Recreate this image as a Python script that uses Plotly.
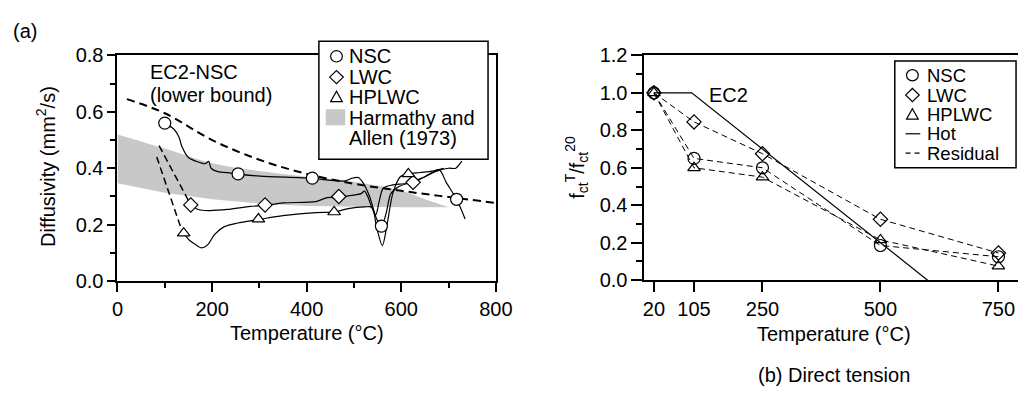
import plotly.graph_objects as go

W, H = 1035, 396
FONT = "Liberation Sans, Arial, Helvetica, sans-serif"

# ---------------- (a) Diffusivity data ----------------
# EC2-NSC lower bound (dashed)
ec2_T = [20, 100, 200, 300, 400, 500, 600, 700, 800]
ec2_D = [0.645, 0.595, 0.50, 0.43, 0.38, 0.345, 0.32, 0.298, 0.277]

# Harmathy and Allen (1973) band
band_T = [0, 100, 200, 300, 400, 500, 600, 650, 700]
band_up = [0.52, 0.47, 0.418, 0.39, 0.37, 0.352, 0.32, 0.29, 0.262]
band_lo = [0.347, 0.313, 0.29, 0.275, 0.266, 0.263, 0.262, 0.262, 0.262]

# Measured curves (solid)
nsc_T = [100, 119, 130, 136, 150, 171, 185, 193, 198, 212, 240, 255, 302, 412, 453, 481, 495, 509,
         519, 533, 548, 558, 568, 578, 595, 620, 650, 680, 695, 717, 735]
nsc_D = [0.56, 0.539, 0.511, 0.478, 0.438, 0.422, 0.416, 0.424, 0.40, 0.388, 0.383, 0.379, 0.372, 0.364,
         0.357, 0.355, 0.364, 0.367, 0.349, 0.30, 0.22, 0.195, 0.24, 0.31, 0.335, 0.35, 0.37, 0.395,
         0.35, 0.29, 0.22]
lwc_T = [155, 171, 192, 233, 281, 312, 350, 419, 444, 467, 488, 515, 522, 529, 538, 546, 553, 562,
         580, 605, 625, 650, 675, 700, 715, 728]
lwc_D = [0.27, 0.254, 0.25, 0.254, 0.265, 0.268, 0.277, 0.282, 0.296, 0.296, 0.302, 0.31, 0.319,
         0.30, 0.26, 0.235, 0.28, 0.33, 0.34, 0.345, 0.35, 0.37, 0.39, 0.40, 0.40, 0.425]
hp_T = [140, 152, 164, 178, 192, 205, 226, 254, 298, 350, 419, 459, 488, 522, 538, 548, 560, 570,
        582, 598, 615, 640, 665, 690]
hp_D = [0.17, 0.145, 0.131, 0.118, 0.131, 0.165, 0.193, 0.206, 0.218, 0.232, 0.243, 0.245, 0.257,
        0.263, 0.262, 0.19, 0.126, 0.2, 0.31, 0.37, 0.38, 0.385, 0.39, 0.40]

# Initial dashed segments (LWC, HPLWC)
lwc_dash_T = [88, 155]
lwc_dash_D = [0.48, 0.27]
hp_dash_T = [83, 138]
hp_dash_D = [0.44, 0.17]

# Markers
nsc_mT = [100, 255, 412, 558, 717]
nsc_mD = [0.56, 0.38, 0.365, 0.195, 0.29]
lwc_mT = [155, 312, 468, 625]
lwc_mD = [0.27, 0.27, 0.30, 0.35]
hp_mT = [140, 298, 458, 615]
hp_mD = [0.17, 0.22, 0.245, 0.38]

# ---------------- (b) Direct tension data ----------------
tens_T = [20, 105, 250, 500, 750]
tens_nsc = [1.0, 0.65, 0.60, 0.185, 0.125]
tens_lwc = [1.0, 0.845, 0.675, 0.325, 0.145]
tens_hp = [1.0, 0.60, 0.55, 0.215, 0.075]
ec2t_T = [20, 100, 600]
ec2t_k = [1.0, 1.0, 0.0]

fig = go.Figure()

# band
fig.add_trace(go.Scatter(x=band_T, y=band_lo, mode="lines", line=dict(width=0, color="#c8c8c8"),
                         xaxis="x", yaxis="y", showlegend=False, hoverinfo="skip"))
fig.add_trace(go.Scatter(x=band_T, y=band_up, mode="lines", line=dict(width=0, color="#c8c8c8", shape="spline"),
                         fill="tonexty", fillcolor="#c8c8c8", xaxis="x", yaxis="y", showlegend=False,
                         hoverinfo="skip"))
# EC2 dashed
fig.add_trace(go.Scatter(x=ec2_T, y=ec2_D, mode="lines",
                         line=dict(color="black", width=2, dash="8px,5px", shape="spline"),
                         xaxis="x", yaxis="y", showlegend=False))
for xs, ys in [(nsc_T, nsc_D), (lwc_T, lwc_D), (hp_T, hp_D)]:
    fig.add_trace(go.Scatter(x=xs, y=ys, mode="lines",
                             line=dict(color="black", width=1.2, shape="spline", smoothing=0.8),
                             xaxis="x", yaxis="y", showlegend=False))
for xs, ys in [(lwc_dash_T, lwc_dash_D), (hp_dash_T, hp_dash_D)]:
    fig.add_trace(go.Scatter(x=xs, y=ys, mode="lines",
                             line=dict(color="black", width=1.5, dash="7px,4px"),
                             xaxis="x", yaxis="y", showlegend=False))

mk = dict(color="white", line=dict(color="black", width=1.2))
fig.add_trace(go.Scatter(x=nsc_mT, y=nsc_mD, mode="markers",
                         marker=dict(symbol="circle", size=12, **mk), xaxis="x", yaxis="y", showlegend=False))
fig.add_trace(go.Scatter(x=lwc_mT, y=lwc_mD, mode="markers",
                         marker=dict(symbol="diamond", size=11, **mk), xaxis="x", yaxis="y", showlegend=False))
fig.add_trace(go.Scatter(x=hp_mT, y=hp_mD, mode="markers",
                         marker=dict(symbol="triangle-up", size=11, **mk), xaxis="x", yaxis="y", showlegend=False))

# (b)
fig.add_trace(go.Scatter(x=ec2t_T, y=ec2t_k, mode="lines", line=dict(color="black", width=1.2),
                         xaxis="x2", yaxis="y2", showlegend=False))
for ys, sym, sz in [(tens_lwc, "diamond-open", 11), (tens_nsc, "circle-open", 12), (tens_hp, "triangle-up-open", 11)]:
    fig.add_trace(go.Scatter(x=tens_T, y=ys, mode="lines+markers",
                             line=dict(color="black", width=1, dash="6px,4px"),
                             marker=dict(symbol=sym, size=sz, color="black", line=dict(width=1.2)),
                             xaxis="x2", yaxis="y2", showlegend=False))


def X(px):
    return px / W


def Y(py):
    return 1 - py / H


ax_common = dict(showgrid=False, zeroline=False, showline=True, linecolor="black", linewidth=2,
                 ticks="outside", tickcolor="black", tickwidth=1.5,
                 tickfont=dict(family=FONT, size=20, color="black"))

fig.update_layout(
    width=W, height=H, margin=dict(l=0, r=0, t=0, b=0),
    paper_bgcolor="white", plot_bgcolor="white",
    font=dict(family=FONT, size=20, color="black"),
    showlegend=False,
    xaxis=dict(domain=[X(114), X(501)], range=[0, 800], tickvals=[0, 200, 400, 600, 800],
               ticklen=9, mirror=True, anchor="y",
               minor=dict(tickvals=[100, 300, 500, 700], ticklen=5, ticks="outside", tickwidth=1.5,
                          tickcolor="black"), **ax_common),
    yaxis=dict(domain=[Y(286), Y(47)], range=[0, 0.8], tickvals=[0, 0.2, 0.4, 0.6, 0.8],
               tickformat=".1f", ticklen=8, mirror=True, anchor="x",
               minor=dict(tickvals=[0.1, 0.3, 0.5, 0.7], ticklen=5, ticks="outside", tickwidth=1.5,
                          tickcolor="black"), **ax_common),
    xaxis2=dict(domain=[X(653), 1.0], range=[0, 791.5], tickvals=[20, 105, 250, 500, 750],
                ticklen=10, mirror=True, anchor="y2", **ax_common),
    yaxis2=dict(domain=[Y(285), Y(47)], range=[0, 1.2], tickvals=[0, 0.2, 0.4, 0.6, 0.8, 1.0, 1.2],
                tickformat=".1f", ticklen=11, mirror=False, anchor="x2",
                minor=dict(tickvals=[0.1, 0.3, 0.5, 0.7, 0.9, 1.1], ticklen=6, ticks="outside",
                           tickwidth=1.5, tickcolor="black"), **ax_common),
)

shapes = []
ann = []


def text(px, py, s, xanchor="left", size=20, angle=0):
    ann.append(dict(x=X(px), y=Y(py), xref="paper", yref="paper", text=s, showarrow=False,
                    xanchor=xanchor, yanchor="middle", textangle=angle, borderpad=0,
                    font=dict(family=FONT, size=size, color="black")))


def circle(cx, cy, r=6):
    shapes.append(dict(type="circle", xref="paper", yref="paper", x0=X(cx - r), x1=X(cx + r),
                       y0=Y(cy + r), y1=Y(cy - r), line=dict(color="black", width=1.2),
                       fillcolor="white", layer="above"))


def path(pts):
    d = "M " + " L ".join(f"{X(a):.5f},{Y(b):.5f}" for a, b in pts) + " Z"
    shapes.append(dict(type="path", xref="paper", yref="paper", path=d,
                       line=dict(color="black", width=1.2), fillcolor="white", layer="above"))


def diamond(cx, cy, r=7):
    path([(cx - r, cy), (cx, cy - r), (cx + r, cy), (cx, cy + r)])


def tri(cx, cy, r=6):
    path([(cx - r, cy + 5), (cx + r, cy + 5), (cx, cy - 6)])


def rect(x0, y0, x1, y1, fill="white", lw=1.5):
    shapes.append(dict(type="rect", xref="paper", yref="paper", x0=X(x0), x1=X(x1), y0=Y(y1), y1=Y(y0),
                       line=dict(color="black", width=lw), fillcolor=fill, layer="above"))


# legend (a)
rect(320, 32, 493, 157)
circle(338, 48)
diamond(338, 70)
tri(338, 91)
shapes.append(dict(type="rect", xref="paper", yref="paper", x0=X(327), x1=X(347), y0=Y(121), y1=Y(104),
                   line=dict(width=0), fillcolor="#c8c8c8", layer="above"))
text(350, 48, "NSC")
text(350, 70, "LWC")
text(350, 91, "HPLWC")
text(350, 113, "Harmathy and")
text(350, 135, "Allen (1973)")

# legend (b)
rect(909, 53, 1033, 166)
lb_y = [68, 89, 109.5, 130, 150.5]
circle(927, lb_y[0])
diamond(927, lb_y[1])
tri(927, lb_y[2])
shapes.append(dict(type="line", xref="paper", yref="paper", x0=X(920), x1=X(935), y0=Y(lb_y[3]), y1=Y(lb_y[3]),
                   line=dict(color="black", width=1.2), layer="above"))
shapes.append(dict(type="line", xref="paper", yref="paper", x0=X(920), x1=X(937), y0=Y(lb_y[4]), y1=Y(lb_y[4]),
                   line=dict(color="black", width=1.2, dash="5px,4px"), layer="above"))
for yy, s in zip(lb_y, ["NSC", "LWC", "HPLWC", "Hot", "Residual"]):
    text(941, yy, s, size=18.5)

# other labels
text(6, 21, "(a)")
text(146, 65, "EC2-NSC")
text(146, 89, "(lower bound)")
text(718, 89, "EC2")
text(41, 165, "Diffusivity (mm<sup>2</sup>/s)", xanchor="center", angle=-90)
text(584, 166, "f<sub>ct</sub><sup>T</sup>/f<sub>ct</sub><sup>20</sup>", xanchor="center", angle=-90)
text(307.5, 341, "Temperature (°C)", xanchor="center")
text(847, 342, "Temperature (°C)", xanchor="center")
text(847, 385, "(b) Direct tension", xanchor="center")

fig.update_layout(shapes=shapes, annotations=ann)
fig.write_html("out.html")
